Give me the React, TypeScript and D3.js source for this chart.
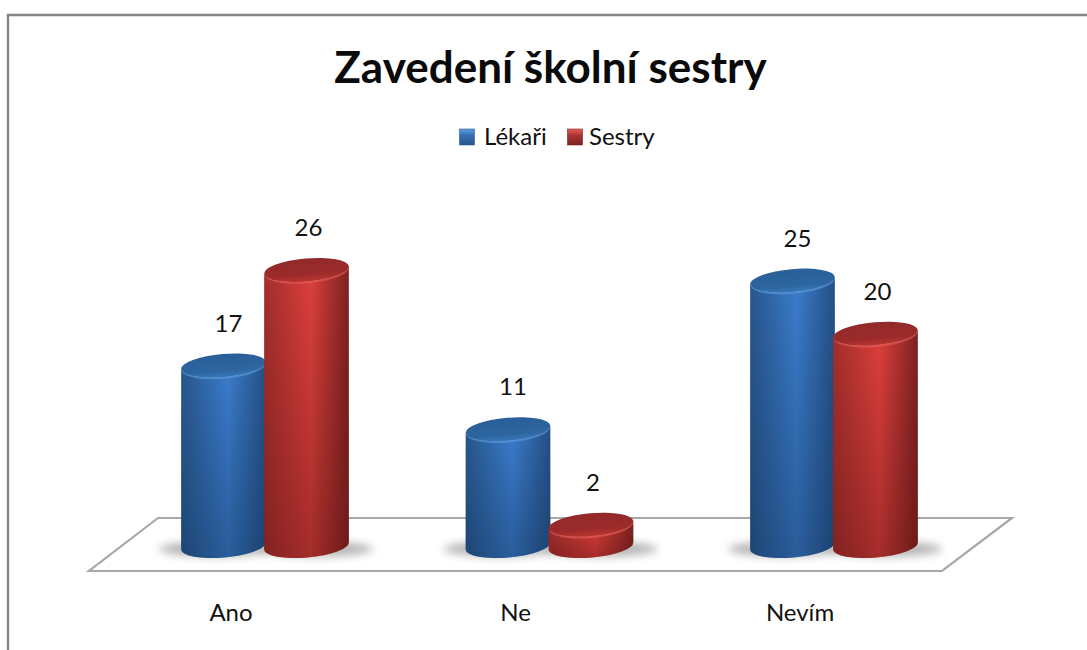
import React from "react";
import * as d3 from "d3";

const categories = ["Ano", "Ne", "Nevím"];
const seriesNames = ["Lékaři", "Sestry"];
const lekari = [17, 11, 25];
const sestry = [26, 2, 20];
const chartTitle = "Zavedení školní sestry";

const W = 1087, H = 650;
const FONT = "Lato, 'Open Sans', sans-serif";
const x0 = d3.scaleBand<string>().domain(categories).range([182, 1035.5]).padding(0);
const x1 = d3.scaleBand<string>().domain(seriesNames).range([0, 166]).padding(0);
const y = d3.scaleLinear().domain([0, 26]).range([546, 270]);
const TILT = -5;
const RX = 42.5, RY = 11.5;

function ellipsePoint(cx: number, cy: number, t: number) {
  const a = (TILT * Math.PI) / 180;
  const ex = RX * Math.cos(t), ey = RY * Math.sin(t);
  return [cx + ex * Math.cos(a) - ey * Math.sin(a), cy + ex * Math.sin(a) + ey * Math.cos(a)];
}

function Shadow({ cx, bottom, s }: { cx: number; bottom: number; s: number }) {
  return (
    <ellipse cx={cx + (s === 0 ? -8 : 10)} cy={bottom + 3} rx={RX + 14} ry={RY - 4} fill="#777" opacity={0.55} filter="url(#soft)" />
  );
}

function Cylinder({ cx, top, bottom, s }: { cx: number; top: number; bottom: number; s: number }) {
  const id = s === 0 ? "blue" : "red";
  const [lx, ly] = ellipsePoint(cx, top, Math.PI);
  const [rx, ry] = ellipsePoint(cx, top, 0);
  const [blx, bly] = ellipsePoint(cx, bottom, Math.PI);
  const [brx, bry] = ellipsePoint(cx, bottom, 0);
  const body = `M${lx},${ly} L${blx},${bly} A${RX},${RY} ${TILT} 0 0 ${brx},${bry} L${rx},${ry} A${RX},${RY} ${TILT} 0 1 ${lx},${ly} Z`;
  return (
    <g>
      <path d={body} fill={`url(#${id}Side)`} />
      <path d={body} fill={`url(#${id}Shade)`} />
      <ellipse cx={cx} cy={top + 1.4} rx={RX - 0.5} ry={RY + 0.4} fill={s === 0 ? "#5b9be0" : "#e8615c"} opacity={0.6} transform={`rotate(${TILT} ${cx} ${top})`} />
      <ellipse cx={cx} cy={top} rx={RX} ry={RY} fill={`url(#${id}Top)`} transform={`rotate(${TILT} ${cx} ${top})`} />
    </g>
  );
}

function Gradients() {
  const sets = [
    { id: "blue", side: ["#28568c", "#3b7dcc", "#245085"], top: ["#2a5f99", "#2c659f", "#3777b8"], shade: "#0f2c50" },
    { id: "red", side: ["#a32e2c", "#dd403c", "#7c2220"], top: ["#92292a", "#9c2b2a", "#bb3532"], shade: "#501010" },
  ];
  return (
    <defs>
      <filter id="soft" x="-40%" y="-150%" width="180%" height="400%"><feGaussianBlur stdDeviation="4" /></filter>
      {sets.map(c => (
        <React.Fragment key={c.id}>
          <linearGradient id={`${c.id}Side`} x1="0" x2="1" y1="0" y2="0">
            <stop offset="0" stopColor={c.side[0]} />
            <stop offset="0.55" stopColor={c.side[1]} />
            <stop offset="1" stopColor={c.side[2]} />
          </linearGradient>
          <linearGradient id={`${c.id}Shade`} x1="0" x2="0" y1="0" y2="1">
            <stop offset="0" stopColor={c.shade} stopOpacity={0} />
            <stop offset="1" stopColor={c.shade} stopOpacity={0.4} />
          </linearGradient>
          <linearGradient id={`${c.id}Top`} x1="0" x2="0" y1="0" y2="1">
            <stop offset="0" stopColor={c.top[0]} />
            <stop offset="0.7" stopColor={c.top[1]} />
            <stop offset="1" stopColor={c.top[2]} />
          </linearGradient>
          <linearGradient id={`${c.id}Key`} x1="0" x2="0" y1="0" y2="1">
            <stop offset="0" stopColor={c.id === "blue" ? "#5f9fe6" : "#ea5e5a"} />
            <stop offset="0.4" stopColor={c.id === "blue" ? "#356fb2" : "#a83431"} />
            <stop offset="1" stopColor={c.id === "blue" ? "#28568c" : "#7c2422"} />
          </linearGradient>
        </React.Fragment>
      ))}
    </defs>
  );
}

export default function App() {
  const series = [lekari, sestry];
  const floor = d3.line()([[89, 571], [942, 571], [1012, 518], [158, 518]])! + "Z";
  const labelOff = [5, 2];
  const barX = (c: string, n: string) => x0(c)! + x1(n)! + x1.bandwidth() / 2;
  return (
    <svg width={W} height={H} style={{ position: "absolute", left: 0, top: 0, background: "#fff" }} fontFamily={FONT}>
      <Gradients />
      <path d={`M8,${H} V15 H${W}`} fill="none" stroke="#858585" strokeWidth={2.4} />
      <text x={550.5} y={83} textAnchor="middle" fontSize={44} fontWeight={700} fill="#0a0a0a">{chartTitle}</text>

      <rect x={459.5} y={129} width={15} height={16} fill="url(#blueKey)" stroke="#2c5a90" strokeWidth={0.6} />
      <text x={484} y={145} fontSize={24} fill="#111">{seriesNames[0]}</text>
      <rect x={567.5} y={129} width={15} height={16} fill="url(#redKey)" stroke="#7c2422" strokeWidth={0.6} />
      <text x={589} y={145} fontSize={24} fill="#111">{seriesNames[1]}</text>

      <path d={floor} fill="#fff" stroke="#a8a8a8" strokeWidth={2.2} />

      {categories.map((c) => (
        <g key={c + "s"}>
          {seriesNames.map((n, s) => (
            <Shadow key={n} cx={barX(c, n)} bottom={y(0)} s={s} />
          ))}
        </g>
      ))}

      {categories.map((c, i) => (
        <g key={c}>
          {seriesNames.map((n, s) => (
            <Cylinder key={n} cx={barX(c, n)} top={y(series[s][i])} bottom={y(0)} s={s} />
          ))}
        </g>
      ))}

      {categories.map((c, i) => (
        <g key={c + "l"}>
          {seriesNames.map((n, s) => (
            <text key={n} x={barX(c, n) + labelOff[s]} y={y(series[s][i]) - 34} textAnchor="middle" fontSize={24} fill="#111">
              {series[s][i]}
            </text>
          ))}
          <text x={x0(c)! + 49} y={621} textAnchor="middle" fontSize={24} fill="#111">{c}</text>
        </g>
      ))}
    </svg>
  );
}
